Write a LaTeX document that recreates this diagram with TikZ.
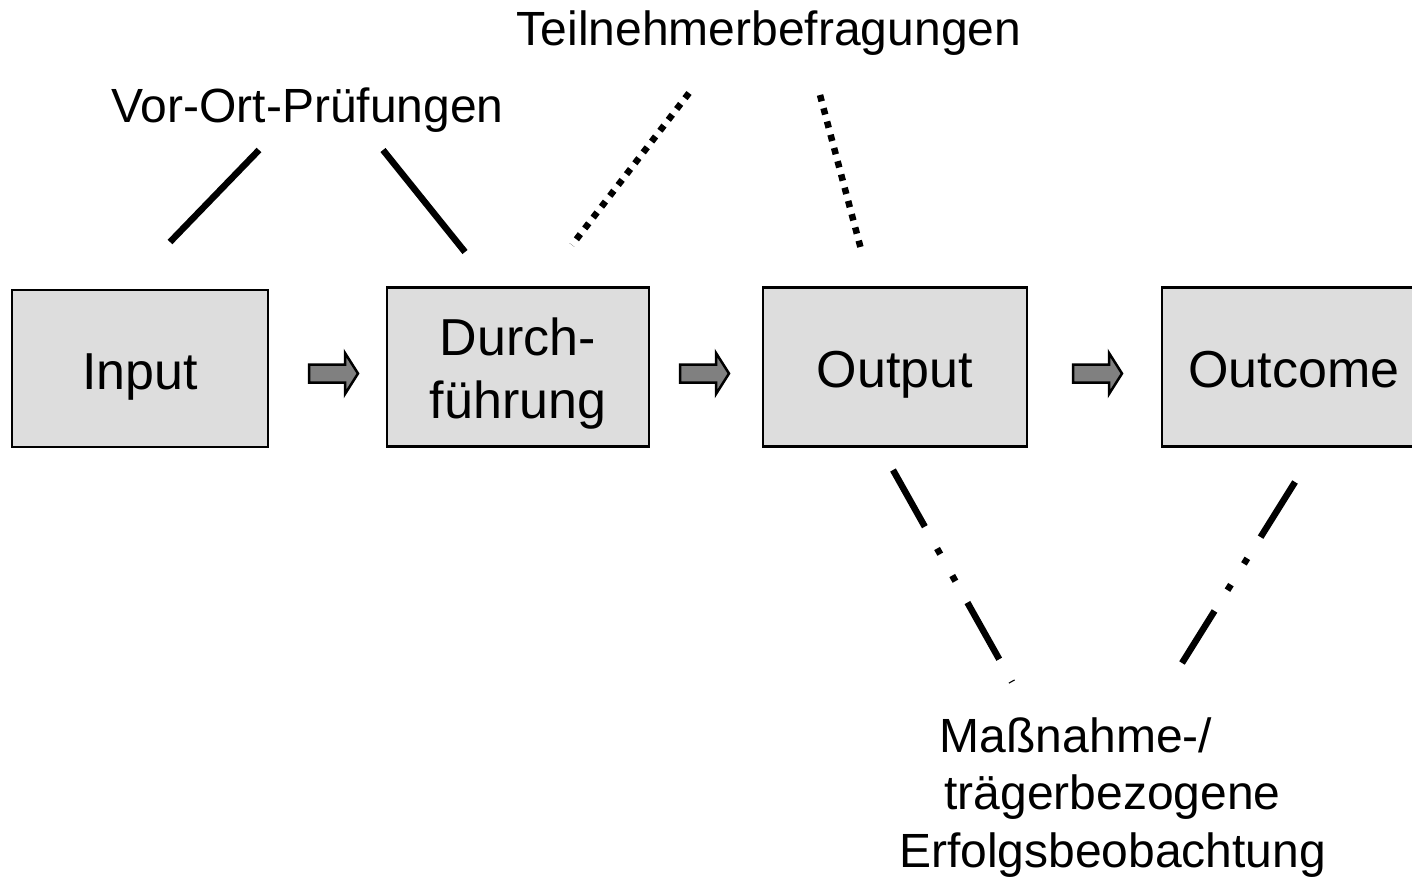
\documentclass[tikz,border=0pt]{standalone}
\usepackage{fontspec}
\setmainfont{Liberation Sans}
\definecolor{boxgray}{RGB}{221,221,221}
\definecolor{arrowgray}{RGB}{128,128,128}
\tikzset{
  box/.style={draw=black, line width=2.2pt, fill=boxgray, inner sep=0pt,
    font=\fontsize{52}{63}\selectfont, minimum height=159pt},
  onebox/.style={box, text height=52pt, text depth=11pt},
  lbl/.style={inner sep=0pt, font=\fontsize{48}{57.5}\selectfont},
  solidline/.style={line width=6.5pt},
  dotline/.style={line width=6.5pt, dash pattern=on 6.5pt off 7.2pt},
  dashdotline/.style={line width=6.5pt, dash pattern=on 65pt off 25pt on 6.5pt off 24.5pt on 6.5pt off 24.5pt},
  blockarrow/.pic={\draw[line width=2.5pt, fill=arrowgray, line join=miter]
    (0,-9) -- (36,-9) -- (36,-20.5) -- (49,0) -- (36,20.5) -- (36,9) -- (0,9) -- cycle;}
}
\begin{document}
\begin{tikzpicture}[x=1pt,y=-1pt]
\useasboundingbox (0,0) rectangle (1412,876);
\clip (0,0) rectangle (1412,876);

% boxes
\node[onebox, minimum width=256pt, minimum height=157pt] (input) at (140,368.5) {Input};
\node[box, minimum width=262pt, align=center] (durch) at (518,367) {\rule{0pt}{50pt}Durch-\\führung\rule[-11pt]{0pt}{11pt}};
\node[onebox, minimum width=264pt] (output) at (895,367) {Output};
\node[onebox, minimum width=264pt] (outcome) at (1294,367) {Outcome};

% block arrows
\coordinate (a1) at (309,373.5);
\coordinate (a2) at (680,373.5);
\coordinate (a3) at (1073,373.5);
\pic at (a1) {blockarrow};
\pic at (a2) {blockarrow};
\pic at (a3) {blockarrow};

% labels
\node[lbl, anchor=base] (vor) at (307.5,122) {Vor-Ort-Prüfungen};
\node[lbl, anchor=base] (teil) at (769,45) {Teilnehmerbefragungen};
\node[lbl, anchor=north, align=center] (mass) at (1112.5,712)
  {\rule{0pt}{40pt}Maßnahme-/\hspace*{73pt}\\trägerbezogene\\Erfolgsbeobachtung};

% connector end points
\coordinate (v1a) at (259,150); \coordinate (v1b) at (170,242);
\coordinate (v2a) at (383,150); \coordinate (v2b) at (465,252);
\coordinate (t1a) at (689,93);  \coordinate (t1b) at (572,245);
\coordinate (t2a) at (820,95);  \coordinate (t2b) at (862,253);
\coordinate (m1a) at (893,470); \coordinate (m1b) at (1012,682);
\coordinate (m2a) at (1295,482); \coordinate (m2b) at (1182,663);

\draw[solidline] (v1a) -- (v1b);
\draw[solidline] (v2a) -- (v2b);
\draw[dotline] (t1a) -- (t1b);
\draw[dotline] (t2a) -- (t2b);
\draw[dashdotline] (m1a) -- (m1b);
\draw[dashdotline] (m2a) -- (m2b);
\end{tikzpicture}
\end{document}
